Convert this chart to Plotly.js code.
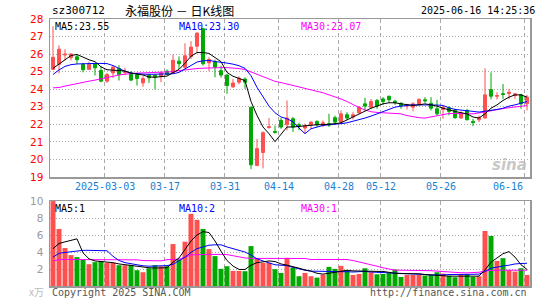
<!DOCTYPE html>
<html><head><meta charset="utf-8">
<script src="https://cdn.plot.ly/plotly-3.0.1.min.js"></script>
<style>html,body{margin:0;padding:0;background:#fff;}#c{width:545px;height:300px;}</style>
</head><body><div id="c"></div>
<script>
const dates = ['2025-02-18','2025-02-19','2025-02-20','2025-02-21','2025-02-24','2025-02-25','2025-02-26','2025-02-27','2025-02-28',
'2025-03-03','2025-03-04','2025-03-05','2025-03-06','2025-03-07','2025-03-10','2025-03-11','2025-03-12','2025-03-13','2025-03-14',
'2025-03-17','2025-03-18','2025-03-19','2025-03-20','2025-03-21','2025-03-24','2025-03-25','2025-03-26','2025-03-27','2025-03-28','2025-03-31',
'2025-04-01','2025-04-02','2025-04-03','2025-04-07','2025-04-08','2025-04-09','2025-04-10','2025-04-11','2025-04-14','2025-04-15','2025-04-16','2025-04-17','2025-04-18',
'2025-04-21','2025-04-22','2025-04-23','2025-04-24','2025-04-25','2025-04-28','2025-04-29','2025-04-30',
'2025-05-06','2025-05-07','2025-05-08','2025-05-09','2025-05-12','2025-05-13','2025-05-14','2025-05-15','2025-05-16','2025-05-19','2025-05-20','2025-05-21','2025-05-22','2025-05-23',
'2025-05-26','2025-05-27','2025-05-28','2025-05-29','2025-05-30',
'2025-06-03','2025-06-04','2025-06-05','2025-06-06','2025-06-09','2025-06-10','2025-06-11','2025-06-12','2025-06-13','2025-06-16'];

const openP = [25.13,25.42,25.95,25.80,25.85,25.42,25.13,25.44,25.07,24.46,24.93,25.18,24.95,24.93,24.84,24.36,24.80,24.80,24.74,25.03,
24.93,25.60,25.25,25.87,26.45,27.45,25.50,25.57,25.06,24.81,24.13,24.40,24.58,22.98,19.66,20.40,21.82,21.60,22.23,21.98,
22.32,21.98,21.79,21.98,22.17,21.94,22.04,22.38,22.13,22.55,22.42,22.66,23.17,22.98,23.36,23.45,23.60,23.32,23.20,23.04,
22.98,23.15,23.40,23.20,22.89,22.85,22.94,22.79,22.36,22.79,22.17,22.26,22.36,23.98,23.60,23.75,23.75,23.64,23.68,23.17];
const highP = [27.58,26.50,26.28,26.05,26.00,25.50,25.57,25.50,25.31,24.93,25.35,25.37,25.22,25.03,24.93,24.74,24.88,24.84,25.03,25.13,
25.98,25.87,26.62,26.74,27.26,27.45,25.82,25.68,25.34,24.87,24.58,24.74,24.68,22.98,21.17,21.60,22.36,21.94,22.36,23.36,
22.42,22.09,22.04,22.17,22.23,22.23,22.60,22.50,22.79,22.70,22.70,23.04,23.51,23.45,23.45,23.55,23.64,23.40,23.26,23.17,
23.26,23.49,23.55,23.55,23.40,23.04,23.04,22.89,22.74,22.89,22.32,22.51,25.19,24.96,23.83,24.30,24.02,23.79,23.74,23.68];
const lowP = [25.10,24.90,25.64,25.64,25.43,24.96,25.11,24.78,24.40,24.36,24.65,24.50,24.80,24.46,24.21,24.14,24.36,23.99,24.40,24.80,
24.93,25.15,25.15,25.72,26.05,25.35,25.03,24.68,24.66,23.74,24.10,24.28,24.02,19.45,19.62,19.49,21.75,21.47,21.75,21.66,
21.57,21.66,21.47,21.75,21.85,21.85,21.85,22.04,22.04,22.23,22.28,22.60,22.79,22.89,22.89,23.11,23.23,23.11,22.89,22.85,
22.74,23.08,23.23,22.79,22.51,22.32,22.51,22.32,22.32,22.23,21.90,22.13,22.32,23.42,23.42,23.45,23.45,23.45,22.89,22.79];
const closeP = [25.82,26.28,26.00,26.01,25.68,25.11,25.43,25.22,24.46,24.84,25.26,24.84,25.00,24.52,24.61,24.61,24.65,24.70,24.93,24.84,
25.65,25.45,25.91,26.40,27.19,25.45,25.70,25.25,24.81,24.21,24.36,24.62,24.40,19.70,20.62,21.53,21.87,21.55,21.85,22.36,
21.85,21.90,21.94,22.13,21.98,22.09,21.96,22.13,22.60,22.36,22.55,22.98,23.04,23.30,23.04,23.30,23.40,23.23,23.04,23.11,
23.17,23.42,23.34,22.92,22.60,22.98,22.74,22.38,22.66,22.26,22.10,22.38,23.68,23.60,23.64,23.70,23.83,23.74,23.17,23.55];

const ma5 = [25.19,25.43,25.68,25.92,25.98,25.81,25.68,25.57,25.28,25.11,25.08,25.04,25.04,24.92,24.87,24.81,24.70,24.68,24.72,24.75,
24.95,25.13,25.48,25.88,26.09,26.09,26.04,25.78,25.57,24.96,24.74,24.62,24.49,23.30,22.51,21.85,21.47,21.02,21.47,21.85,
21.85,21.89,21.91,21.94,21.98,21.98,22.00,22.04,22.09,22.26,22.42,22.60,22.74,22.92,23.04,23.17,23.23,23.23,23.17,23.11,
23.08,23.11,23.17,23.11,23.04,22.92,22.85,22.74,22.66,22.60,22.42,22.36,22.60,22.92,23.11,23.36,23.55,23.68,23.68,23.55];
const ma10 = [24.84,25.10,25.30,25.40,25.44,25.46,25.47,25.47,25.47,25.46,25.35,25.20,25.02,24.92,24.87,24.86,24.85,24.85,24.86,24.87,
24.88,24.96,25.15,25.34,25.55,25.62,25.64,25.58,25.55,25.49,25.43,25.34,25.19,24.77,24.11,23.55,23.04,22.66,22.42,22.32,
22.15,21.79,21.47,21.75,21.85,21.94,21.98,22.00,22.04,22.09,22.17,22.26,22.36,22.47,22.60,22.74,22.89,22.98,23.04,23.08,
23.11,23.11,23.12,23.11,23.10,23.08,22.94,22.85,22.80,22.79,22.74,22.70,22.74,22.79,22.85,22.92,23.04,23.11,23.22,23.30];
const ma30 = [24.08,24.10,24.18,24.26,24.34,24.40,24.46,24.52,24.60,24.68,24.75,24.81,24.86,24.90,24.92,24.93,24.94,24.94,24.95,24.96,
25.00,25.06,25.11,25.15,25.18,25.20,25.22,25.23,25.23,25.23,25.22,25.18,25.12,24.98,24.86,24.72,24.56,24.45,24.38,24.30,
24.22,24.14,24.06,23.98,23.90,23.80,23.68,23.58,23.45,23.30,23.12,22.96,22.82,22.72,22.68,22.66,22.66,22.65,22.60,22.50,
22.42,22.38,22.36,22.42,22.50,22.58,22.62,22.62,22.60,22.60,22.60,22.65,22.72,22.78,22.84,22.90,22.95,22.99,23.03,23.07];

const volume = [10.0,6.72,4.47,3.64,3.40,3.08,2.57,2.81,2.92,2.73,2.73,2.45,2.45,2.49,1.86,1.62,2.09,2.45,2.33,2.33,
4.94,3.12,5.22,8.50,7.79,6.72,4.35,3.52,2.02,2.33,1.78,1.78,1.74,4.70,3.24,2.73,2.73,1.98,1.54,3.32,
2.17,1.15,1.54,1.15,0.99,1.34,2.25,2.02,2.37,1.86,1.30,1.42,2.09,1.62,1.38,1.42,1.54,1.94,1.07,1.30,
1.30,1.30,1.23,1.30,1.62,1.46,1.19,1.03,1.38,1.38,1.07,1.15,6.48,5.89,2.96,3.28,1.86,1.70,2.09,1.30];
const volMa5 = [4.4,5.0,5.2,5.4,5.55,3.9,3.2,2.95,2.88,2.85,2.75,2.6,2.5,2.45,2.35,2.25,2.15,2.12,2.12,2.15,
2.8,3.3,4.3,5.3,6.0,6.4,6.3,5.3,4.1,3.0,2.35,1.95,1.95,2.45,2.75,2.85,2.95,2.88,2.6,2.45,
2.3,2.1,1.9,1.75,1.5,1.4,1.5,1.6,1.75,1.85,1.78,1.75,1.75,1.72,1.72,1.72,1.6,1.5,1.46,1.46,
1.46,1.44,1.35,1.28,1.28,1.22,1.16,1.15,1.15,1.15,1.15,1.16,1.9,2.8,3.3,3.8,4.05,3.4,2.5,1.95];
const volMa10 = [3.4,3.85,3.95,4.05,4.15,4.2,4.2,4.2,4.2,4.15,3.5,3.0,2.75,2.6,2.45,2.38,2.33,2.33,2.33,2.4,
2.55,2.95,3.4,3.95,4.4,4.6,4.8,4.85,4.85,4.6,4.4,4.2,4.0,3.65,3.2,2.95,2.7,2.5,2.45,2.4,
2.2,2.0,1.85,1.75,1.75,1.72,1.72,1.7,1.7,1.68,1.65,1.68,1.72,1.65,1.62,1.62,1.6,1.55,1.5,1.48,
1.45,1.42,1.35,1.3,1.28,1.3,1.35,1.38,1.38,1.38,1.38,1.4,1.7,2.1,2.25,2.35,2.45,2.6,2.65,2.68];
const volMa30 = [2.95,3.1,3.12,3.12,3.12,3.12,3.12,3.12,3.12,3.05,3.04,3.08,3.1,3.1,3.08,3.0,2.96,2.96,2.96,3.1,
3.15,3.16,3.4,3.65,3.7,3.72,3.72,3.72,3.72,3.7,3.55,3.4,3.3,3.25,3.24,3.24,3.24,3.24,3.24,3.24,
3.24,3.24,3.24,3.12,3.12,3.12,3.12,3.12,3.12,3.12,3.0,2.85,2.68,2.5,2.33,2.15,2.0,1.86,1.86,1.86,
1.86,1.86,1.86,1.8,1.75,1.68,1.64,1.6,1.56,1.55,1.56,1.62,1.78,1.86,1.86,1.86,1.86,1.86,1.86,1.86];

const tickDates = ['2025-03-03','2025-03-17','2025-03-31','2025-04-14','2025-04-28','2025-05-12','2025-05-26','2025-06-16'];
const tickLabels = ['2025-03-03','03-17','03-31','04-14','04-28','05-12','05-26','06-16'];
const priceTicks = [19,20,21,22,23,24,25,26,27,28];
const volTicks = [2,4,6,8,10];
const volLabels = ['MA5:1','MA10:2','MA30:1'];
const headerCode = 'sz300712';
const headerTitle = '永福股份 － 日K线图';
const headerTime = '2025-06-16 14:25:36';

const RED = '#ff5050', GREEN = '#00a800';
const idx = dates.map((d,i)=>i);
const tickIdx = tickDates.map(d => dates.indexOf(d) - 0.35);
const volColors = idx.map(i => closeP[i] >= openP[i] ? RED : GREEN);
const mono = 'DejaVu Sans Mono';

const traces = [
  {type:'candlestick', x: idx, open: openP, high: highP, low: lowP, close: closeP, xaxis:'x', yaxis:'y',
   increasing:{line:{color:RED,width:1}, fillcolor:RED},
   decreasing:{line:{color:GREEN,width:1}, fillcolor:GREEN},
   whiskerwidth:0, hoverinfo:'skip'},
  {type:'scatter', mode:'lines', x: idx, y: ma30, line:{color:'#ff00ff',width:1}, xaxis:'x', yaxis:'y', hoverinfo:'skip'},
  {type:'scatter', mode:'lines', x: idx, y: ma10, line:{color:'#0000ff',width:1}, xaxis:'x', yaxis:'y', hoverinfo:'skip'},
  {type:'scatter', mode:'lines', x: idx, y: ma5, line:{color:'#000000',width:1}, xaxis:'x', yaxis:'y', hoverinfo:'skip'},
  {type:'bar', x: idx, y: volume, marker:{color: volColors, line:{width:0}}, xaxis:'x2', yaxis:'y2', hoverinfo:'skip'},
  {type:'scatter', mode:'lines', x: idx, y: volMa30, line:{color:'#ff00ff',width:1}, xaxis:'x2', yaxis:'y2', hoverinfo:'skip'},
  {type:'scatter', mode:'lines', x: idx, y: volMa10, line:{color:'#0000ff',width:1}, xaxis:'x2', yaxis:'y2', hoverinfo:'skip'},
  {type:'scatter', mode:'lines', x: idx, y: volMa5, line:{color:'#000000',width:1}, xaxis:'x2', yaxis:'y2', hoverinfo:'skip'}
];

const gridX = {tickvals: tickIdx, showticklabels:false, showgrid:true, gridcolor:'#aaaaaa', griddash:'4px,3px', gridwidth:1,
  showline:true, mirror:true, linecolor:'#999999', linewidth:1.5, zeroline:false, ticks:'', range:[-0.5,79.5], fixedrange:true};

const annotations = [];
tickLabels.forEach((t,k) => {
  const last = k === tickLabels.length-1;
  annotations.push({xref:'x', yref:'paper', x: tickIdx[k], y: 0.3745, text: t, showarrow:false,
    xanchor: last ? 'right' : 'center', yanchor:'middle', font:{family:mono, size:10, color:'#1a7fd4'}});
});
const maTxt = [['MA5:'+ma5[ma5.length-1].toFixed(2),'#000000',0.006],['MA10:'+ma10[ma10.length-1].toFixed(2),'#0000ff',0.265],['MA30:'+ma30[ma30.length-1].toFixed(2),'#ff00ff',0.519]];
maTxt.forEach(m => annotations.push({xref:'paper', yref:'paper', x:m[2], y:0.999, text:m[0], showarrow:false, xanchor:'left', yanchor:'top', font:{family:mono,size:10,color:m[1]}}));
volLabels.forEach((t,k) => annotations.push({xref:'paper', yref:'paper', x:maTxt[k][2], y:0.317, text:t, showarrow:false, xanchor:'left', yanchor:'top', font:{family:mono,size:10,color:maTxt[k][1]}}));
annotations.push({xref:'paper', yref:'paper', x:0, y:1.031, text:headerCode, showarrow:false, xanchor:'left', yanchor:'middle', font:{family:mono,size:11,color:'#000'}});
annotations.push({xref:'paper', yref:'paper', x:0.152, y:1.031, text:headerTitle, showarrow:false, xanchor:'left', yanchor:'middle', font:{family:'Noto Sans CJK SC',size:12,color:'#000'}});
annotations.push({xref:'paper', yref:'paper', x:1.0146, y:1.031, text:headerTime, showarrow:false, xanchor:'right', yanchor:'middle', font:{family:mono,size:10,color:'#000'}});
annotations.push({xref:'paper', yref:'paper', x:0, y:-0.026, text:'Copyright 2025 SINA.COM', showarrow:false, xanchor:'left', yanchor:'middle', font:{family:mono,size:10,color:'#555'}});
annotations.push({xref:'paper', yref:'paper', x:0.998, y:-0.026, text:'http://finance.sina.com.cn', showarrow:false, xanchor:'right', yanchor:'middle', font:{family:mono,size:10,color:'#555'}});
annotations.push({xref:'paper', yref:'paper', x:-0.008, y:-0.02, text:'x万', showarrow:false, xanchor:'right', yanchor:'middle', font:{family:'Noto Sans CJK SC',size:10,color:'#bbbbbb'}});
annotations.push({xref:'paper', yref:'paper', x:0.998, y:0.455, text:'<b><i>sina</i></b>', showarrow:false, xanchor:'right', yanchor:'middle', font:{family:'DejaVu Sans',size:15,color:'rgba(190,190,190,0.85)'}});

const layout = {
  width:545, height:300, paper_bgcolor:'#fff', plot_bgcolor:'#fff', showlegend:false,
  margin:{l:50, r:15, t:19, b:14, pad:0},
  bargap:0.17, boxgap:0.3,
  xaxis: Object.assign({}, gridX, {anchor:'y', domain:[0,1], rangeslider:{visible:false}}),
  xaxis2: Object.assign({}, gridX, {anchor:'y2', domain:[0,1]}),
  yaxis: {domain:[0.408,1], range:[19,28], tickvals: priceTicks, showgrid:true, gridcolor:'#aaaaaa', griddash:'1px,2px', gridwidth:1,
    showline:true, mirror:true, linecolor:'#999999', linewidth:1.5, zeroline:false, ticks:'', ticklabelstandoff:3,
    tickfont:{family:'DejaVu Sans', size:10.5, color:'#ff0000'}, fixedrange:true},
  yaxis2: {domain:[0,0.318], range:[0,10], tickvals: volTicks, showgrid:true, gridcolor:'#aaaaaa', griddash:'1px,2px', gridwidth:1,
    showline:true, mirror:true, linecolor:'#999999', linewidth:1.5, zeroline:false, ticks:'', ticklabelstandoff:3,
    tickfont:{family:'DejaVu Sans', size:10.5, color:'#999999'}, fixedrange:true},
  annotations: annotations
};
Plotly.newPlot('c', traces, layout, {staticPlot:true, displayModeBar:false});
</script></body></html>
